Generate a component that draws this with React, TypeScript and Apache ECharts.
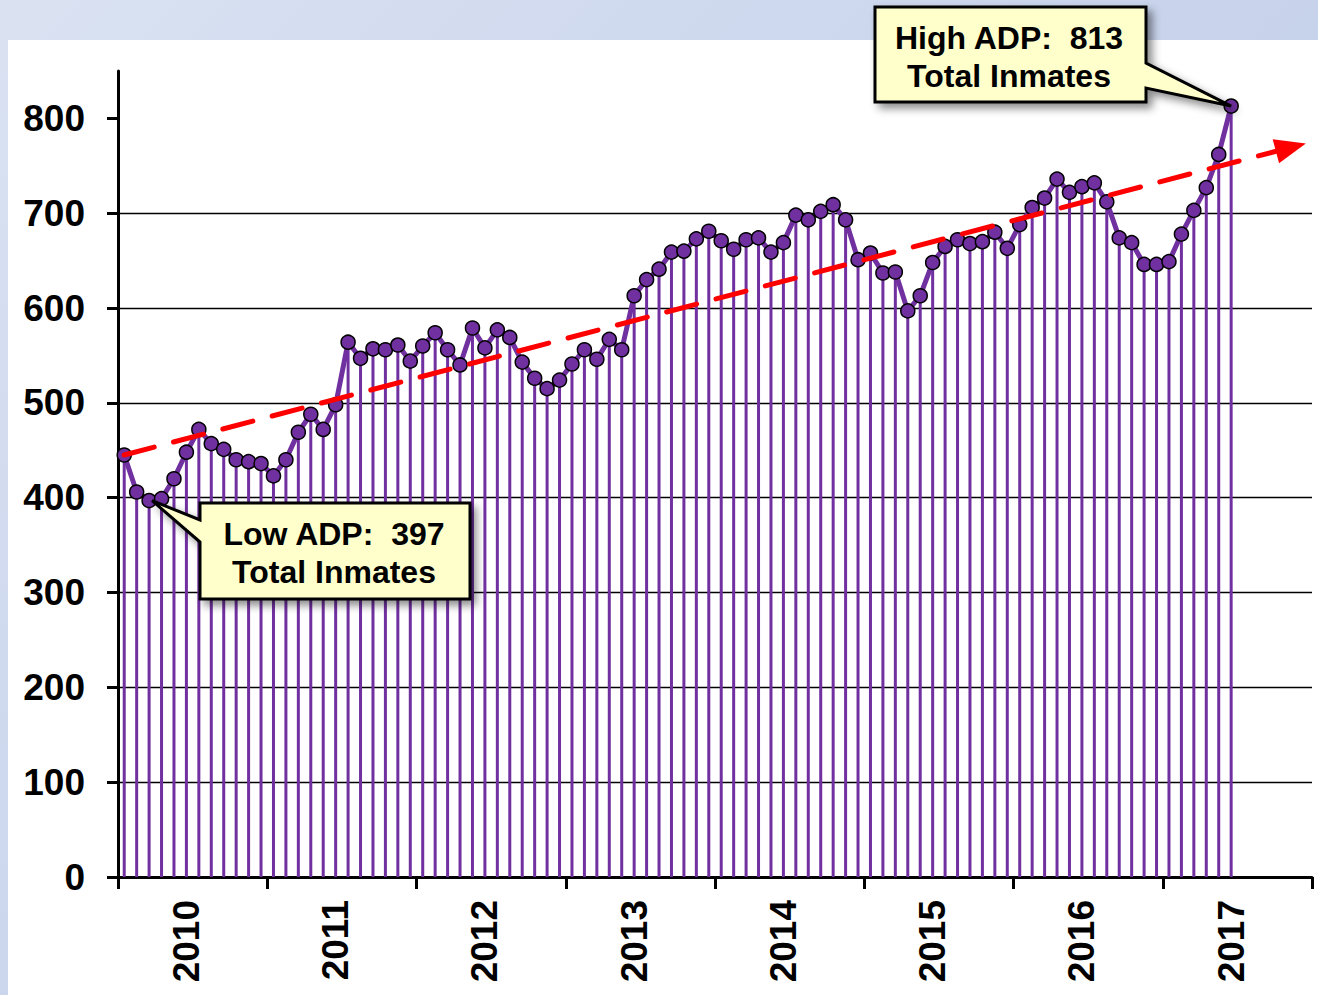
import React, { useEffect, useRef } from "react";
import * as echarts from "echarts";

const YEARS = ["2010", "2011", "2012", "2013", "2014", "2015", "2016", "2017"];
const MONTHS = ["01", "02", "03", "04", "05", "06", "07", "08", "09", "10", "11", "12"];

// Average daily population (monthly), Jan 2010 – Jun 2017
const ADP = [
  445, 406, 397, 399, 420, 448, 472, 457, 451, 440, 438, 436,
  423, 440, 469, 488, 472, 498, 564, 547, 557, 556, 561, 544,
  560, 574, 556, 540, 579, 558, 577, 569, 543, 526, 515, 524,
  541, 556, 546, 567, 556, 613, 630, 641, 659, 660, 673, 681,
  671, 662, 672, 674, 659, 669, 698, 693, 702, 709, 693, 651,
  658, 637, 638, 597, 613, 648, 665, 672, 668, 670, 680, 663,
  688, 706, 716, 736, 722, 728, 732, 712, 674, 669, 646, 646,
  649, 678, 703, 727, 762, 813,
];

// Trend line endpoints (month index, value)
const TREND_X = [0, 93.8];
const TREND_Y = [445, 769.5];

const Y_TICKS = [0, 100, 200, 300, 400, 500, 600, 700, 800];

const FONT = '"Liberation Sans", Arial, sans-serif';
const PURPLE = "#7030a0";

export default function App() {
  const ref = useRef<HTMLDivElement>(null);

  useEffect(() => {
    if (!ref.current) return;
    const chart = echarts.init(ref.current, null, { renderer: "svg" });
    const months = YEARS.flatMap((y) => MONTHS.map((m) => `${y}-${m}`));

    chart.setOption({
      animation: false,
      grid: { left: 118, right: 6, top: 71, bottom: 118, containLabel: false },
      xAxis: [
        {
          type: "category",
          data: months,
          boundaryGap: true,
          axisLine: { show: true, onZero: false, lineStyle: { color: "#000", width: 3 } },
          axisTick: {
            show: true,
            interval: (i: number) => i % 12 === 0,
            length: 12,
            lineStyle: { color: "#000", width: 3 },
          },
          axisLabel: {
            interval: (i: number) => i % 12 === 5,
            rotate: 90,
            formatter: (v: string) => v.slice(0, 4),
            color: "#000",
            fontWeight: "bold",
            fontSize: 37,
            fontFamily: FONT,
            margin: 23,
          },
          splitLine: { show: false },
        },
        { type: "value", min: -0.5, max: months.length - 0.5, show: false },
      ],
      yAxis: {
        type: "value",
        min: 0,
        max: 850,
        interval: 100,
        axisLine: { show: true, onZero: false, lineStyle: { color: "#000", width: 3 } },
        axisTick: {
          show: true,
          length: 11,
          customValues: Y_TICKS,
          lineStyle: { color: "#000", width: 3 },
        },
        axisLabel: {
          customValues: Y_TICKS,
          color: "#000",
          fontWeight: "bold",
          fontSize: 37,
          fontFamily: FONT,
          margin: 33,
        },
        splitLine: {
          show: true,
          showMinLine: false,
          showMaxLine: false,
          lineStyle: { color: "#000", width: 1.3 },
        },
      },
      series: [
        {
          type: "bar",
          data: ADP,
          barWidth: 3,
          itemStyle: { color: PURPLE },
          silent: true,
          z: 2,
        },
        {
          type: "line",
          xAxisIndex: 1,
          data: [
            [TREND_X[0], TREND_Y[0]],
            [TREND_X[1], TREND_Y[1]],
          ],
          showSymbol: false,
          lineStyle: { opacity: 0 },
          silent: true,
          z: 3,
          markLine: {
            silent: true,
            symbol: ["none", "triangle"],
            symbolSize: [25, 31],
            label: { show: false },
            lineStyle: { color: "#ff0000", width: 5, type: [31, 20], cap: "round" },
            data: [
              [
                { coord: [TREND_X[0], TREND_Y[0]] },
                { coord: [TREND_X[1], TREND_Y[1]] },
              ],
            ],
          },
        },
        {
          type: "line",
          data: ADP,
          symbol: "circle",
          symbolSize: 14,
          showAllSymbol: true,
          lineStyle: { color: PURPLE, width: 5 },
          itemStyle: { color: PURPLE, borderColor: "#000", borderWidth: 1.5 },
          silent: true,
          z: 4,
        },
      ],
    });

    const maxV = Math.max(...ADP);
    const minV = Math.min(...ADP);
    const hi = ADP.indexOf(maxV);
    const lo = ADP.indexOf(minV);
    const pHi = chart.convertToPixel({ xAxisIndex: 0, yAxisIndex: 0 }, [hi, maxV]) as number[];
    const pLo = chart.convertToPixel({ xAxisIndex: 0, yAxisIndex: 0 }, [lo, minV]) as number[];

    const boxStyle = {
      fill: "#ffffcc",
      stroke: "#000",
      lineWidth: 3,
      lineJoin: "miter",
      shadowBlur: 8,
      shadowOffsetX: 5,
      shadowOffsetY: 5,
      shadowColor: "rgba(0,0,0,0.45)",
    };
    const textStyle = {
      align: "center",
      verticalAlign: "middle",
      fontSize: 32,
      fontWeight: "bold",
      fontFamily: FONT,
      lineHeight: 38,
      fill: "#000",
    };

    chart.setOption({
      graphic: [
        {
          type: "polygon",
          z: 100,
          silent: true,
          shape: {
            points: [
              [875, 7],
              [1146, 7],
              [1146, 63],
              [pHi[0], pHi[1]],
              [1146, 88],
              [1146, 102],
              [875, 102],
            ],
          },
          style: boxStyle,
        },
        {
          type: "text",
          z: 101,
          silent: true,
          style: { ...textStyle, text: `High ADP:  ${maxV}\nTotal Inmates`, x: 1009, y: 57 },
        },
        {
          type: "polygon",
          z: 100,
          silent: true,
          shape: {
            points: [
              [200, 503],
              [470, 503],
              [470, 599],
              [200, 599],
              [200, 542],
              [pLo[0] + 3, pLo[1]],
              [200, 520],
            ],
          },
          style: boxStyle,
        },
        {
          type: "text",
          z: 101,
          silent: true,
          style: { ...textStyle, text: `Low ADP:  ${minV}\nTotal Inmates`, x: 334, y: 553 },
        },
      ],
    });

    return () => chart.dispose();
  }, []);

  return (
    <div
      style={{
        position: "absolute",
        left: 0,
        top: 0,
        width: 1318,
        height: 995,
        overflow: "hidden",
        background: "linear-gradient(135deg, #dae2f2 0%, #c9d4ec 50%, #bccae5 100%)",
      }}
    >
      <div
        style={{
          position: "absolute",
          left: 8,
          top: 40,
          right: 0,
          bottom: 0,
          background: "#ffffff",
        }}
      />
      <div
        ref={ref}
        style={{ position: "absolute", left: 0, top: 0, width: 1318, height: 995 }}
      />
    </div>
  );
}
